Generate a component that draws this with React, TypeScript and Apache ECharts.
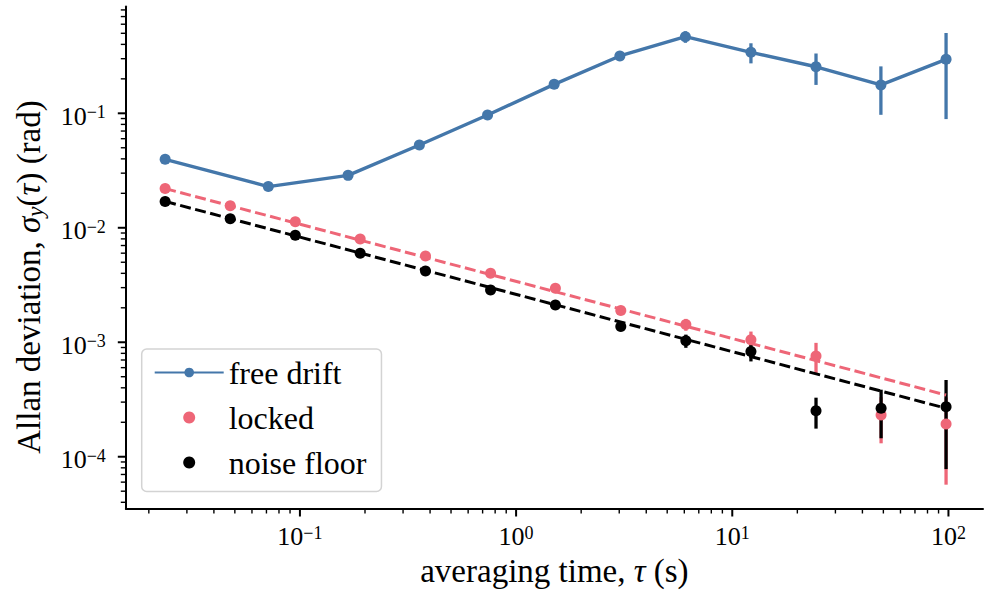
import React, { useEffect, useRef } from 'react';
import * as echarts from 'echarts';

// ---- data ----
const TAU = [0.0238, 0.0476, 0.0952, 0.19, 0.381, 0.762, 1.52, 3.05, 6.1, 12.2, 24.4, 48.8, 97.5];
const TAU_FREE = [0.0238, 0.0714, 0.167, 0.357, 0.738, 1.5, 3.02, 6.07, 12.2, 24.4, 48.7, 97.5];

const FREE = [0.0396, 0.0229, 0.0287, 0.0529, 0.0966, 0.179, 0.317, 0.467, 0.341, 0.255, 0.177, 0.296];
const FREE_ERR = [0.001, 0.0005, 0.0006, 0.001, 0.002, 0.004, 0.009, 0.054, 0.068, 0.078, 0.08, 0.207];

const LOCKED = [0.022, 0.0156, 0.0113, 0.00798, 0.00567, 0.004, 0.00296, 0.00189, 0.00143, 0.00105, 0.000758, 0.000231, 0.000193];
const LOCKED_ERR = [0.0002, 0.0001, 0.00008, 0.00005, 0.00004, 0.00003, 0.00003, 0.00008, 0.00017, 0.00019, 0.00023, 0.0001, 0.000136];

const NOISE = [0.017, 0.012, 0.00859, 0.00598, 0.00419, 0.00286, 0.00212, 0.00137, 0.00103, 0.00083, 0.000252, 0.000265, 0.000273];
const NOISE_ERR = [0.00015, 0.0001, 0.00007, 0.00005, 0.00004, 0.00003, 0.00002, 0.00004, 0.000136, 0.00015, 0.000076, 0.00012, 0.000195];

const FIT_TAU = [0.0238, 97.5];
const FIT_LOCKED = [0.022, 0.000346];
const FIT_NOISE = [0.017, 0.000265];

const X_MIN = 0.01565;
const X_MAX = 144.5;
const Y_MIN = 3.53e-5;
const Y_MAX = 0.857;

const X_MAJOR = [0.1, 1, 10, 100];
const X_TICK_LABELS = ['10{sup|−1}', '10{sup|0}', '10{sup|1}', '10{sup|2}'];
const Y_MAJOR = [1e-4, 1e-3, 1e-2, 1e-1];
const Y_TICK_LABELS = ['10{sup|−4}', '10{sup|−3}', '10{sup|−2}', '10{sup|−1}'];
const MINOR_MULT = [2, 3, 4, 5, 6, 7, 8, 9];
const X_DECADES = [0.01, 0.1, 1, 10, 100];
const Y_DECADES = [1e-5, 1e-4, 1e-3, 1e-2, 1e-1];

const BLUE = '#4477AA';
const RED = '#EE6677';
const BLACK = '#000000';
const FONT = "'Liberation Serif', 'Times New Roman', serif";

function minorTicks(decades: number[], lo: number, hi: number) {
  const out: number[] = [];
  decades.forEach((d) => MINOR_MULT.forEach((m) => {
    const v = d * m;
    if (v >= lo && v <= hi) out.push(v);
  }));
  return out;
}

function labelFor(v: number, majors: number[], labels: string[]) {
  for (let i = 0; i < majors.length; i++) {
    if (Math.abs(Math.log10(v) - Math.log10(majors[i])) < 1e-6) return labels[i];
  }
  return '';
}

function errRender(color: string, width: number) {
  return (params: any, api: any) => {
    const x = api.value(0);
    const p1 = api.coord([x, api.value(1)]);
    const p2 = api.coord([x, api.value(2)]);
    return {
      type: 'line',
      shape: { x1: p1[0], y1: p1[1], x2: p2[0], y2: p2[1] },
      style: { stroke: color, lineWidth: width },
    };
  };
}

export default function App() {
  const ref = useRef<HTMLDivElement>(null);
  useEffect(() => {
    const chart = echarts.init(ref.current!, null, { renderer: 'svg' });

    const xTickData = [
      ...X_MAJOR.map((v) => [v, Y_MIN, 1]),
      ...minorTicks(X_DECADES, X_MIN, X_MAX).map((v) => [v, Y_MIN, 0]),
    ];
    const yTickData = [
      ...Y_MAJOR.map((v) => [X_MIN, v, 1]),
      ...minorTicks(Y_DECADES, Y_MIN, Y_MAX).map((v) => [X_MIN, v, 0]),
    ];

    const supRich = {
      sup: { fontSize: 18, lineHeight: 18, verticalAlign: 'top', fontFamily: FONT, color: '#000' },
    };

    const option: any = {
      animation: false,
      backgroundColor: '#ffffff',
      grid: { left: 125.8, right: 1, top: 6.5, bottom: 88.5, containLabel: false, outerBoundsMode: 'none' },
      xAxis: {
        type: 'log',
        logBase: 10,
        min: X_MIN,
        max: X_MAX,
        axisLine: { show: true, onZero: false, lineStyle: { color: '#000', width: 2 } },
        axisTick: { show: false },
        minorTick: { show: false },
        splitLine: { show: false },
        axisLabel: {
          show: true,
          interval: 0,
          margin: 15,
          fontFamily: FONT,
          fontSize: 26,
          lineHeight: 26,
          color: '#000',
          formatter: (v: number) => labelFor(v, X_MAJOR, X_TICK_LABELS),
          rich: supRich,
        },
        name: 'averaging time, {it|τ} (s)',
        nameLocation: 'middle',
        nameGap: 43,
        nameTextStyle: {
          fontFamily: FONT,
          fontSize: 33,
          lineHeight: 30,
          color: '#000',
          rich: { it: { fontFamily: FONT, fontSize: 33, fontStyle: 'italic', color: '#000', lineHeight: 30 } },
        },
      },
      yAxis: {
        type: 'log',
        logBase: 10,
        min: Y_MIN,
        max: Y_MAX,
        axisLine: { show: true, onZero: false, lineStyle: { color: '#000', width: 2 } },
        axisTick: { show: false },
        minorTick: { show: false },
        splitLine: { show: false },
        axisLabel: {
          show: true,
          interval: 0,
          margin: 20,
          fontFamily: FONT,
          fontSize: 26,
          lineHeight: 26,
          padding: [6, 0, 0, 0],
          color: '#000',
          formatter: (v: number) => labelFor(v, Y_MAJOR, Y_TICK_LABELS),
          rich: supRich,
        },
      },
      legend: {
        show: true,
        orient: 'vertical',
        left: 141.7,
        top: 349,
        data: ['free drift', 'locked', 'noise floor'],
        itemWidth: 69,
        itemHeight: 12,
        itemGap: 13,
        padding: [7.5, 15, 13, 12],
        backgroundColor: 'rgba(255,255,255,0.8)',
        borderColor: '#d3d3d3',
        borderWidth: 1.5,
        borderRadius: 5,
        selectedMode: false,
        textStyle: { fontFamily: FONT, fontSize: 32, lineHeight: 32, color: '#000' },
      },
      graphic: [
        {
          type: 'text',
          x: 29,
          y: 277,
          rotation: Math.PI / 2,
          style: {
            text: 'Allan deviation, {it|σ}{sub|y}({it|τ}) (rad)',
            align: 'center',
            verticalAlign: 'middle',
            fontFamily: FONT,
            fontSize: 33,
            lineHeight: 36,
            fill: '#000',
            rich: {
              it: { fontFamily: FONT, fontSize: 33, fontStyle: 'italic', lineHeight: 36 },
              sub: { fontFamily: FONT, fontSize: 23, fontStyle: 'italic', lineHeight: 23, verticalAlign: 'bottom' },
            },
          },
        },
      ],
      series: [
        {
          type: 'custom',
          name: 'free err',
          silent: true,
          renderItem: errRender(BLUE, 3.3),
          data: TAU_FREE.map((t, i) => [t, FREE[i] - FREE_ERR[i], FREE[i] + FREE_ERR[i]]),
          z: 2,
        },
        {
          type: 'custom',
          name: 'locked err',
          silent: true,
          renderItem: errRender(RED, 3.3),
          data: TAU.map((t, i) => [t, LOCKED[i] - LOCKED_ERR[i], LOCKED[i] + LOCKED_ERR[i]]),
          z: 2,
        },
        {
          type: 'custom',
          name: 'noise err',
          silent: true,
          renderItem: errRender(BLACK, 3.3),
          data: TAU.map((t, i) => [t, NOISE[i] - NOISE_ERR[i], NOISE[i] + NOISE_ERR[i]]),
          z: 2,
        },
        {
          type: 'line',
          name: 'free drift',
          data: TAU_FREE.map((t, i) => [t, FREE[i]]),
          symbol: 'circle',
          symbolSize: 11,
          showSymbol: true,
          lineStyle: { width: 3.4, color: BLUE },
          itemStyle: { color: BLUE, opacity: 1 },
          emphasis: { disabled: true },
          z: 3,
        },
        {
          type: 'scatter',
          name: 'locked',
          data: TAU.map((t, i) => [t, LOCKED[i]]),
          symbol: 'circle',
          symbolSize: 11,
          itemStyle: { color: RED, opacity: 1 },
          emphasis: { disabled: true },
          z: 3,
        },
        {
          type: 'scatter',
          name: 'noise floor',
          data: TAU.map((t, i) => [t, NOISE[i]]),
          symbol: 'circle',
          symbolSize: 11,
          itemStyle: { color: BLACK, opacity: 1 },
          emphasis: { disabled: true },
          z: 3,
        },
        {
          type: 'line',
          name: 'locked fit',
          data: FIT_TAU.map((t, i) => [t, FIT_LOCKED[i]]),
          symbol: 'none',
          lineStyle: { width: 3, color: RED, type: [11, 4.5] },
          emphasis: { disabled: true },
          z: 4,
        },
        {
          type: 'line',
          name: 'noise fit',
          data: FIT_TAU.map((t, i) => [t, FIT_NOISE[i]]),
          symbol: 'none',
          lineStyle: { width: 3, color: BLACK, type: [11, 4.5] },
          emphasis: { disabled: true },
          z: 4,
        },
        {
          type: 'custom',
          name: 'x ticks',
          silent: true,
          data: xTickData,
          renderItem: (params: any, api: any) => {
            const p = api.coord([api.value(0), api.value(1)]);
            const major = api.value(2) === 1;
            return {
              type: 'line',
              shape: { x1: p[0], y1: p[1], x2: p[0], y2: p[1] + (major ? 8 : 5) },
              style: { stroke: '#000', lineWidth: major ? 2 : 1.4 },
            };
          },
          z: 5,
        },
        {
          type: 'custom',
          name: 'y ticks',
          silent: true,
          data: yTickData,
          renderItem: (params: any, api: any) => {
            const p = api.coord([api.value(0), api.value(1)]);
            const major = api.value(2) === 1;
            return {
              type: 'line',
              shape: { x1: p[0], y1: p[1], x2: p[0] - (major ? 8 : 5), y2: p[1] },
              style: { stroke: '#000', lineWidth: major ? 2 : 1.4 },
            };
          },
          z: 5,
        },
      ],
    };

    chart.setOption(option);
    return () => chart.dispose();
  }, []);
  return (
    <div
      ref={ref}
      style={{ position: 'fixed', left: 0, top: 0, width: 984, height: 597, background: '#fff' }}
    />
  );
}
